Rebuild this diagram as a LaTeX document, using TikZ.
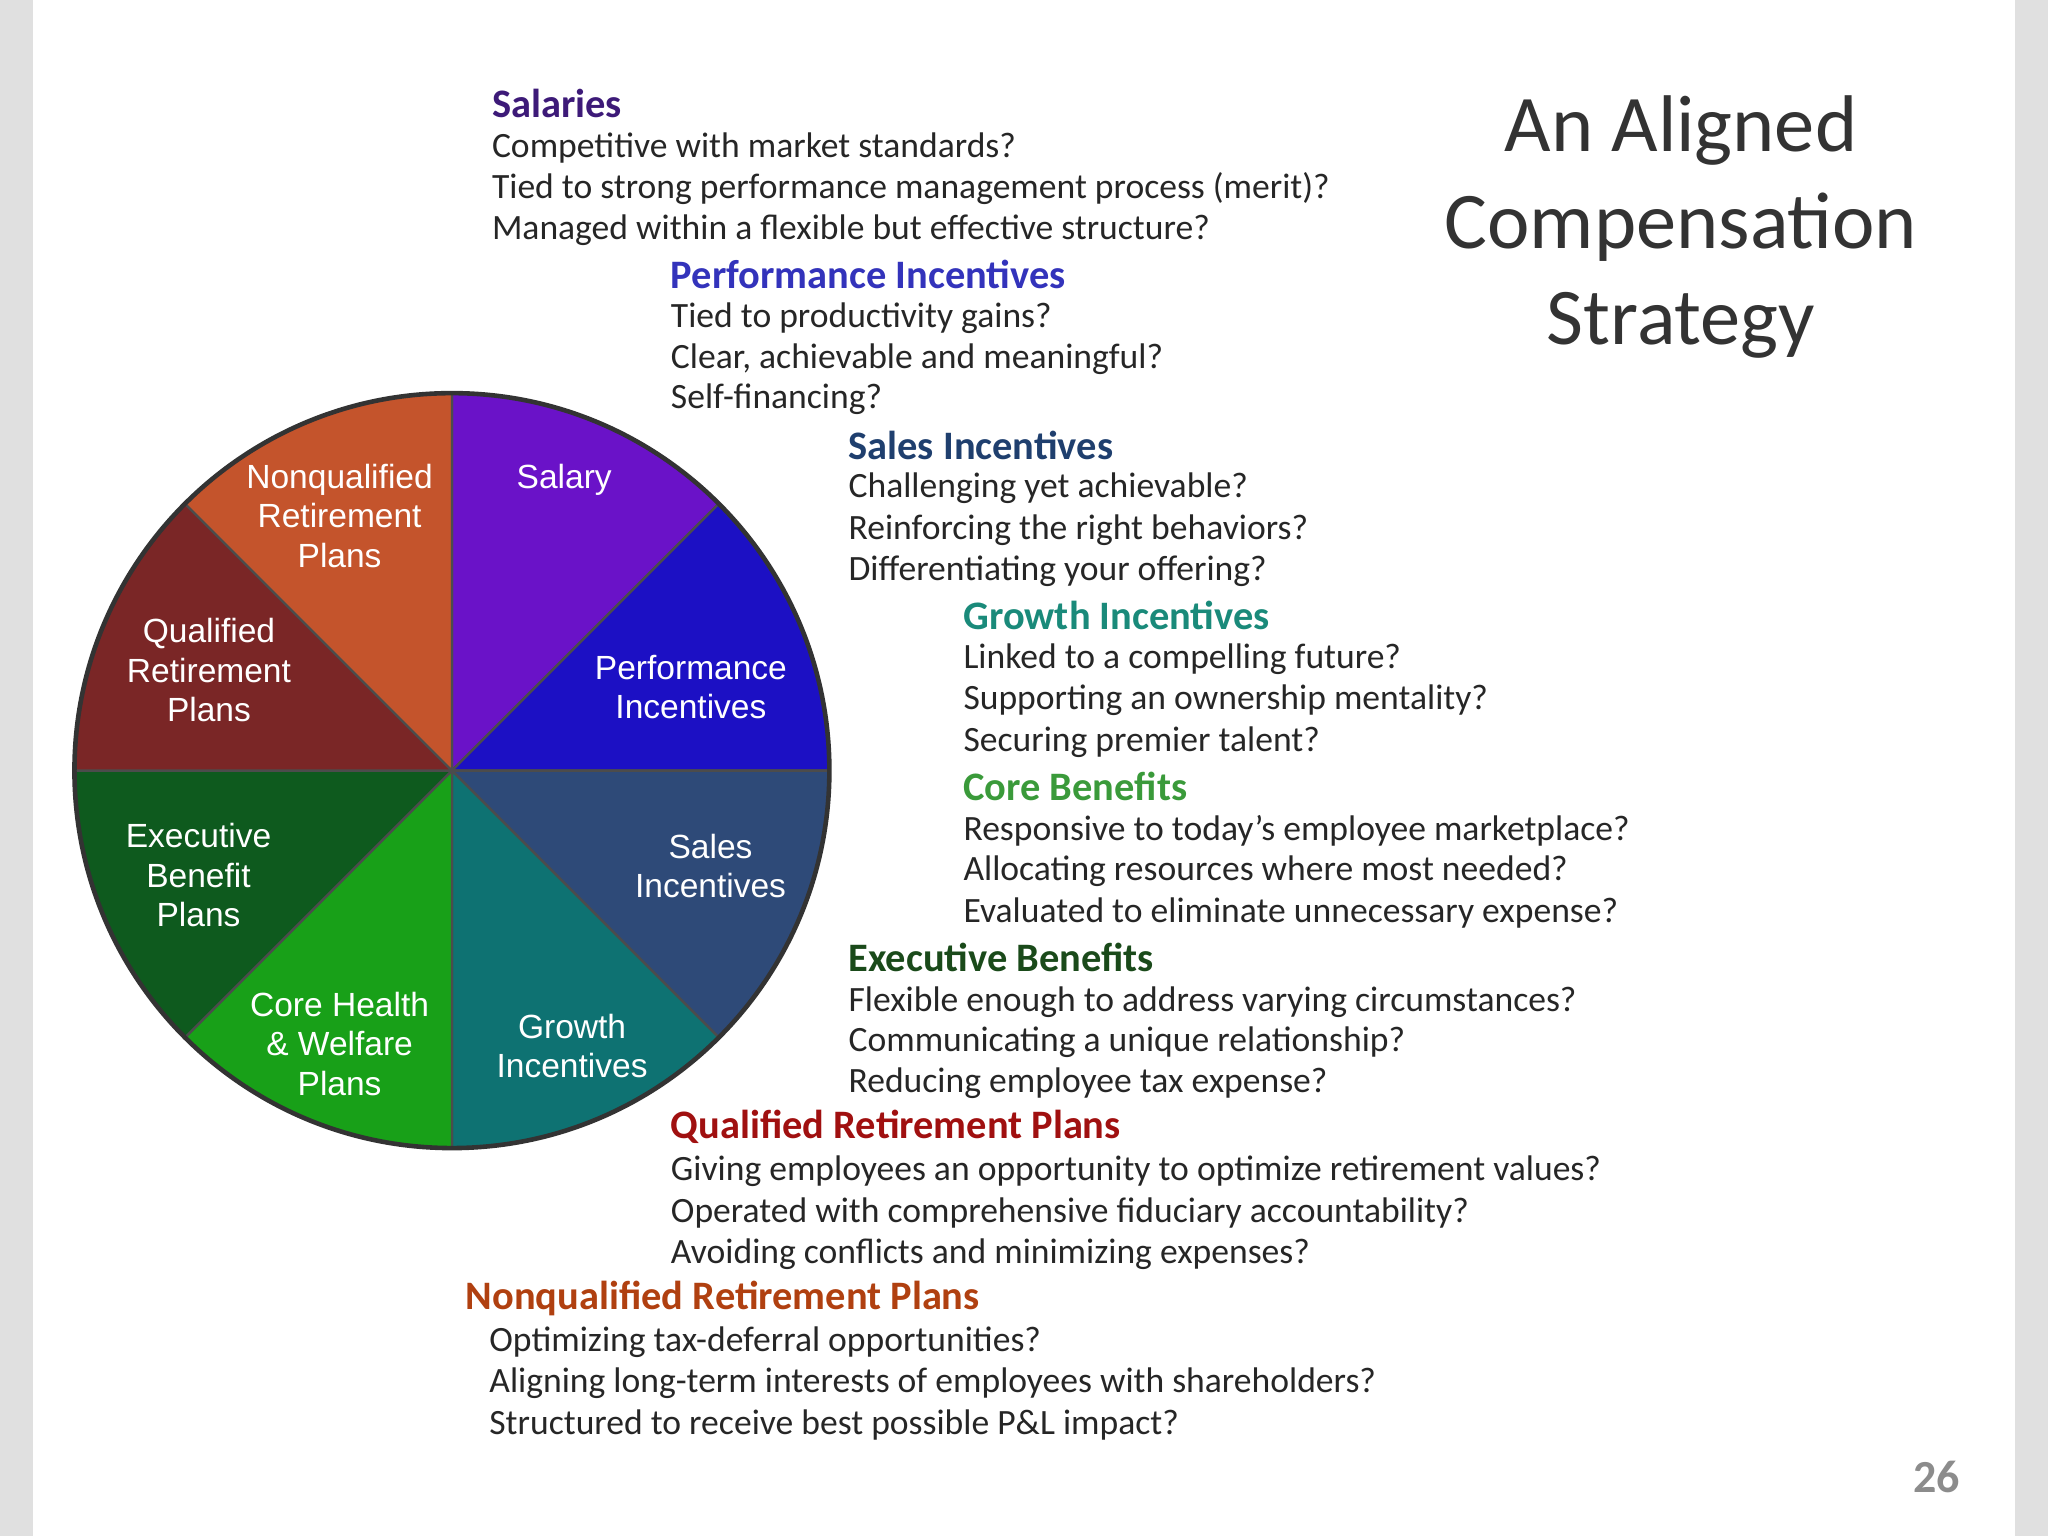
\documentclass[tikz,border=0pt]{standalone}
\usepackage{fontspec}
\setmainfont{Carlito}
\newfontfamily\arialf{Liberation Sans}
\begin{document}
\begin{tikzpicture}[x=0.01cm,y=-0.01cm,
  q/.style={anchor=west,font=\fontsize{7.75}{9}\selectfont,text=black!85,inner sep=0},
  h/.style={anchor=west,font=\fontsize{8.8}{10}\selectfont\bfseries,inner sep=0},
  pl/.style={align=center,text=white,font=\arialf\fontsize{7.3}{8.6}\selectfont},
  sl/.style={draw=black!70,line width=0.5pt}]
\useasboundingbox (0,0) rectangle (1568,1176);
\fill[black!12] (0,0) rectangle (25,1176);
\fill[black!12] (1543,0) rectangle (1568,1176);
\def\R{289}
\coordinate (c) at (346,590);
\foreach \a/\b/\col in {-90/-45/6a12c8,-45/0/1c10c4,0/45/2e4a78,45/90/0e7272,90/135/18a018,135/180/0e5a1e,180/225/7a2626,225/270/c4542c}{
  \definecolor{tmp}{HTML}{\col}
  \fill[tmp,sl] (c) -- ++(\a:\R) arc[start angle=\a,end angle=\b,radius=\R] -- cycle;
}
\draw[black!80,line width=1pt] (c) circle[radius=\R];
\node[pl] (s1) at (432,367) {Salary};
\node[pl] (s2) at (529,526) {Performance\\Incentives};
\node[pl] (s3) at (544,663) {Sales\\Incentives};
\node[pl] (s4) at (438,801) {Growth\\Incentives};
\node[pl] (s5) at (260,799) {Core Health\\\& Welfare\\Plans};
\node[pl] (s6) at (152,670) {Executive\\Benefit\\Plans};
\node[pl] (s7) at (160,513) {Qualified\\Retirement\\Plans};
\node[pl] (s8) at (260,395) {Nonqualified\\Retirement\\Plans};
% text blocks
\node[h,text={rgb,255:red,61;green,26;blue,120}] (t1) at (376,79) {Salaries};
\node[q] at (376,113) {Competitive with market standards?};
\node[q] at (376,144) {Tied to strong performance management process (merit)?};
\node[q] at (376,176) {Managed within a flexible but effective structure?};
\node[h,text={rgb,255:red,51;green,51;blue,187}] (t2) at (513,210) {Performance Incentives};
\node[q] at (513,244) {Tied to productivity gains?};
\node[q] at (513,275) {Clear, achievable and meaningful?};
\node[q] at (513,306) {Self-financing?};
\node[h,text={rgb,255:red,31;green,63;blue,110}] (t3) at (649,341) {Sales Incentives};
\node[q] at (649,374) {Challenging yet achievable?};
\node[q] at (649,406) {Reinforcing the right behaviors?};
\node[q] at (649,437) {Differentiating your offering?};
\node[h,text={rgb,255:red,26;green,138;blue,122}] (t4) at (737,471) {Growth Incentives};
\node[q] at (737,505) {Linked to a compelling future?};
\node[q] at (737,536) {Supporting an ownership mentality?};
\node[q] at (737,568) {Securing premier talent?};
\node[h,text={rgb,255:red,58;green,154;blue,58}] (t5) at (737,602) {Core Benefits};
\node[q] at (737,636) {Responsive to today’s employee marketplace?};
\node[q] at (737,667) {Allocating resources where most needed?};
\node[q] at (737,699) {Evaluated to eliminate unnecessary expense?};
\node[h,text={rgb,255:red,26;green,74;blue,26}] (t6) at (649,733) {Executive Benefits};
\node[q] at (649,767) {Flexible enough to address varying circumstances?};
\node[q] at (649,798) {Communicating a unique relationship?};
\node[q] at (649,829) {Reducing employee tax expense?};
\node[h,text={rgb,255:red,160;green,16;blue,16}] (t7) at (513,863) {Qualified Retirement Plans};
\node[q] at (513,897) {Giving employees an opportunity to optimize retirement values?};
\node[q] at (513,929) {Operated with comprehensive fiduciary accountability?};
\node[q] at (513,960) {Avoiding conflicts and minimizing expenses?};
\node[h,text={rgb,255:red,176;green,64;blue,16}] (t8) at (356,994) {Nonqualified Retirement Plans};
\node[q] at (374,1028) {Optimizing tax-deferral opportunities?};
\node[q] at (374,1059) {Aligning long-term interests of employees with shareholders?};
\node[q] at (374,1091) {Structured to receive best possible P\&L impact?};
\node[align=center,text=black!80,font=\fontsize{17.5}{21}\selectfont] (title) at (1287,174) {An Aligned\\Compensation\\Strategy};
\node[text=black!45,font=\fontsize{10}{12}\selectfont\bfseries] (pg) at (1483,1131) {26};
\end{tikzpicture}
\end{document}
